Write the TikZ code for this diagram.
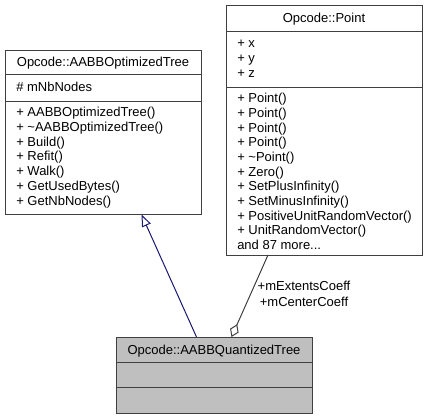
\documentclass[tikz,border=0pt]{standalone}
\usepackage{fontspec}
\setmainfont{Liberation Sans}
\usetikzlibrary{arrows.meta}

\definecolor{boxgray}{HTML}{404040}
\definecolor{fillgray}{HTML}{BFBFBF}
\definecolor{inheritblue}{HTML}{191970}

\begin{document}
\begin{tikzpicture}[x=0.75pt, y=-0.75pt, font=\fontsize{9.75}{12}\selectfont,
		classbox/.style={draw=boxgray, fill=white, line width=0.75pt, inner sep=0pt, anchor=north west, minimum width=147pt},
		divider/.style={draw=boxgray, line width=0.75pt},
		member/.style={anchor=base west, inner sep=0pt},
		title/.style={anchor=base, inner sep=0pt},
		inherit/.style={draw=inheritblue, line width=0.75pt, -{Triangle[open, length=9pt, width=7pt]}},
		aggregate/.style={draw=boxgray, line width=0.75pt, -{Diamond[open, length=10.5pt, width=7pt]}}]
		\useasboundingbox (0,0) rectangle (431,419);

		% base class
		\node[classbox, minimum height=123pt] (optTree) at (5,50) {};
		\draw[divider] (5,74) -- (201,74);
		\draw[divider] (5,101) -- (201,101);
		\node[title] (optTitle) at (103,66.5) {Opcode::AABBOptimizedTree};
		\node[member] (optAttr) at (16,91.5) {\# mNbNodes};
		\foreach \m [count=\i] in {AABBOptimizedTree(), \textasciitilde AABBOptimizedTree(), Build(), Refit(), Walk(), GetUsedBytes(), GetNbNodes()}
			\node[member] (optOp\i) at (16,116.2+14.9*\i-14.9) {+ \m};

		% point class
		\node[classbox, minimum height=187.5pt] (point) at (226,5) {};
		\draw[divider] (226,31) -- (422,31);
		\draw[divider] (226,87) -- (422,87);
		\node[title] (pointTitle) at (324,22.5) {Opcode::Point};
		\foreach \m [count=\i] in {x, y, z}
			\node[member] (pointAttr\i) at (237,47.8+14.7*\i-14.7) {+ \m};
		\foreach \m [count=\i] in {Point(), Point(), Point(), Point(), \textasciitilde Point(), Zero(), SetPlusInfinity(), SetMinusInfinity(), PositiveUnitRandomVector(), UnitRandomVector()}
			\node[member] (pointOp\i) at (237,102.8+14.67*\i-14.67) {+ \m};
		\node[member] (pointMore) at (237,249.5) {and 87 more...};

		% quantized tree
		\node[classbox, fill=fillgray, minimum height=57pt] (quantTree) at (116,337) {};
		\draw[divider] (116,362) -- (312,362);
		\draw[divider] (116,387) -- (312,387);
		\node[title] (quantTitle) at (214,354) {Opcode::AABBQuantizedTree};

		% connectors
		\coordinate (inhFrom) at (196.5,337);
		\coordinate (inhTo) at (141.5,214.5);
		\coordinate (aggFrom) at (268,255);
		\coordinate (aggTo) at (231.5,337);
		\draw[inherit] (inhFrom) -- (inhTo);
		\draw[aggregate] (aggFrom) -- (aggTo);
		\node[align=center, inner sep=0pt, font=\fontsize{9.75}{12}\selectfont] (coeffs) at (304,294) {+mExtentsCoeff\\+mCenterCoeff};
	\end{tikzpicture}
\end{document}
